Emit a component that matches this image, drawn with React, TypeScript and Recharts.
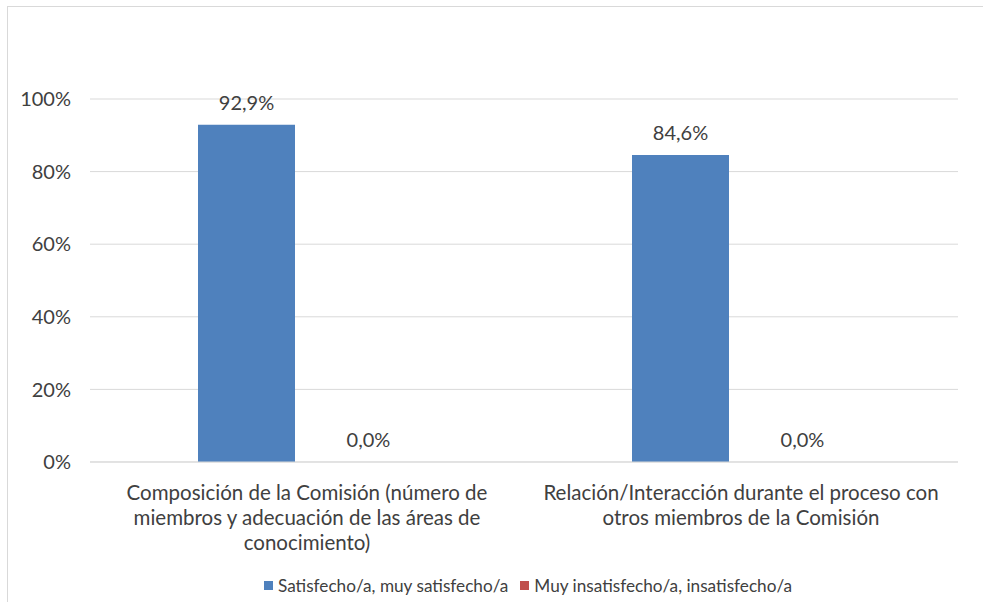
import React from "react";
import { BarChart, Bar, XAxis, YAxis, CartesianGrid, Legend, LabelList } from "recharts";

const categories = [
  "Composición de la Comisión (número de\nmiembros y adecuación de las áreas de\nconocimiento)",
  "Relación/Interacción durante el proceso con\notros miembros de la Comisión",
];
const satisfechos = [0.929, 0.846];
const insatisfechos = [0.0, 0.0];
const yTicks = [0, 0.2, 0.4, 0.6, 0.8, 1.0];

const seriesNames = ["Satisfecho/a, muy satisfecho/a", "Muy insatisfecho/a, insatisfecho/a"];
const colors = ["#4f81bd", "#c0504d"];

const data = categories.map((c, i) => ({
  name: c,
  sat: satisfechos[i],
  ins: insatisfechos[i],
}));

const FONT = "Lato, 'Open Sans', sans-serif";
const TEXT = "#404040";

const fmtPct = (v: number) => `${(Number(v) * 100).toFixed(1).replace(".", ",")}%`;

const CatTick = (props: any) => {
  const { x, y, payload } = props;
  const lines = String(payload.value).split("\n");
  return (
    <text x={x} y={y} textAnchor="middle" fill={TEXT} fontSize={20.5} fontFamily={FONT}>
      {lines.map((l, i) => (
        <tspan key={i} x={x} y={y + 38 + i * 25}>
          {l}
        </tspan>
      ))}
    </text>
  );
};

const LegendContent = () => (
  <div
    style={{
      display: "flex",
      justifyContent: "center",
      alignItems: "center",
      fontFamily: FONT,
      fontSize: 17.2,
      color: TEXT,
      height: 20,
      paddingLeft: 90,
    }}
  >
    {seriesNames.map((n, i) => (
      <span key={n} style={{ display: "inline-flex", alignItems: "center", marginRight: i === 0 ? 12 : 0 }}>
        <span style={{ width: 9, height: 9, background: colors[i], display: "inline-block", marginRight: 5 }} />
        {n}
      </span>
    ))}
  </div>
);

const zeroMin = (value: any) => (Number(value) === 0 ? 0.001 : 0);

export default function App() {
  return (
    <div
      style={{
        position: "absolute",
        left: 7,
        top: 6,
        width: 990,
        height: 600,
        border: "1px solid #d9d9d9",
        background: "#fff",
      }}
    >
      <BarChart
        width={975}
        height={595}
        data={data}
        margin={{ top: 92, right: 25, left: 0, bottom: 7 }}
        barCategoryGap={108}
        barGap={25}
      >
        <CartesianGrid vertical={false} stroke="#d9d9d9" strokeWidth={1} />
        <XAxis
          dataKey="name"
          axisLine={{ stroke: "#d9d9d9" }}
          tickLine={false}
          tickSize={0}
          tickMargin={0}
          height={113}
          interval={0}
          tick={<CatTick />}
        />
        <YAxis
          width={82}
          domain={[0, 1]}
          ticks={yTicks}
          tickFormatter={(v: number) => `${Math.round(v * 100)}%`}
          axisLine={false}
          tickLine={false}
          tickSize={0}
          tickMargin={19}
          tick={{ fill: TEXT, fontSize: 20, fontFamily: FONT }}
        />
        <Legend verticalAlign="bottom" content={<LegendContent />} />
        <Bar dataKey="sat" name={seriesNames[0]} fill={colors[0]} isAnimationActive={false}>
          <LabelList dataKey="sat" position="top" offset={15} formatter={fmtPct} fill={TEXT} fontSize={20} fontFamily={FONT} />
        </Bar>
        <Bar dataKey="ins" name={seriesNames[1]} fill={colors[1]} minPointSize={zeroMin} isAnimationActive={false}>
          <LabelList dataKey="ins" position="top" offset={15} formatter={fmtPct} fill={TEXT} fontSize={20} fontFamily={FONT} />
        </Bar>
      </BarChart>
    </div>
  );
}
